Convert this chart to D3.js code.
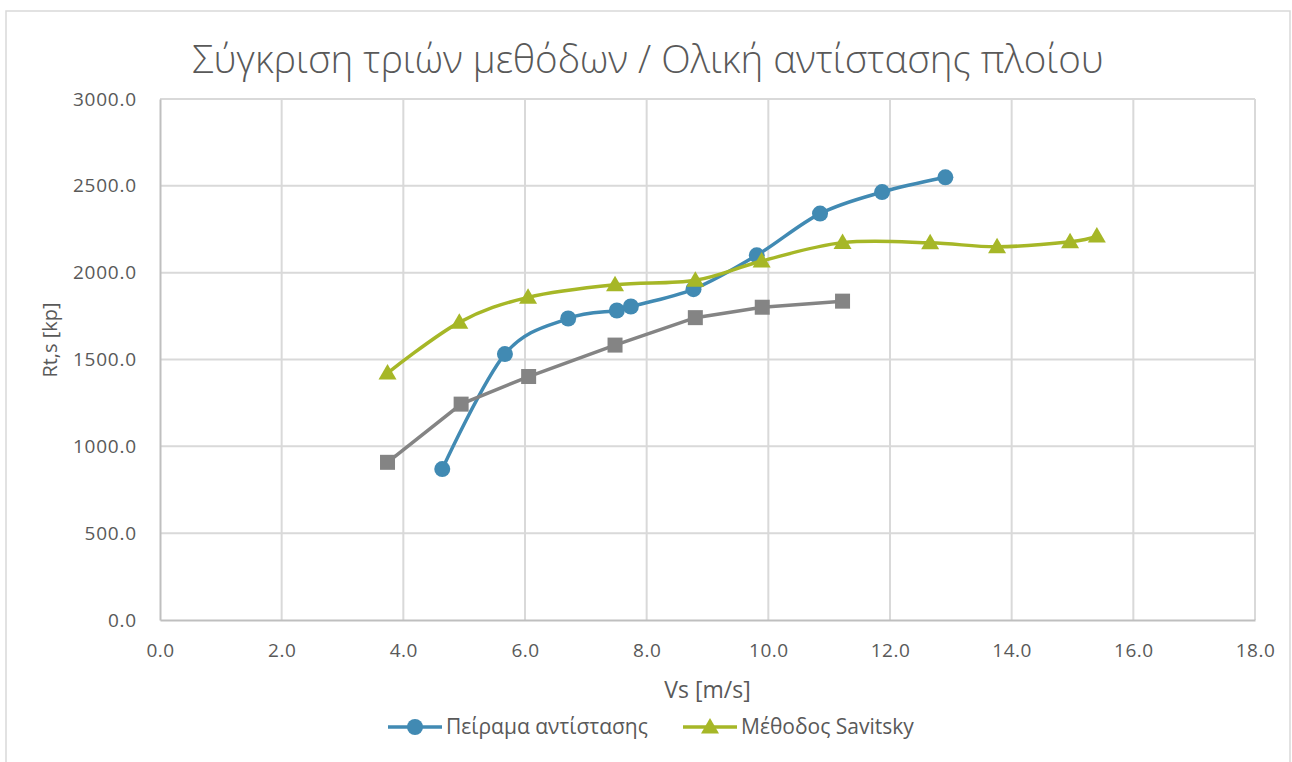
<!DOCTYPE html>
<html>
<head>
<meta charset="utf-8">
<script src="https://cdn.jsdelivr.net/npm/d3@7"></script>
<style>
  body { margin: 0; background: #fff; }
  text { font-family: "Open Sans", "Noto Sans", sans-serif; fill: #595959; }
</style>
</head>
<body>
<div id="chart"></div>
<script>
// data
const expX = [4.64, 5.67, 6.71, 7.51, 7.74, 8.77, 9.81, 10.85, 11.87, 12.91];
const expY = [869, 1531, 1736, 1782, 1805, 1905, 2100, 2340, 2464, 2549];

const grayX = [3.74, 4.95, 6.06, 7.48, 8.80, 9.90, 11.22];
const grayY = [908, 1243, 1402, 1583, 1741, 1801, 1836];

const savX = [3.74, 4.92, 6.05, 7.48, 8.80, 9.89, 11.22, 12.66, 13.76, 14.96, 15.40];
const savY = [1422, 1714, 1858, 1930, 1956, 2067, 2173, 2172, 2149, 2178, 2211];

const xTicks = [0, 2, 4, 6, 8, 10, 12, 14, 16, 18];
const yTicks = [0, 500, 1000, 1500, 2000, 2500, 3000];

const W = 1292, H = 762;
const margin = {top: 99, right: 37, bottom: 142, left: 160};
const width = W - margin.left - margin.right,
      height = H - margin.top - margin.bottom;

const svg = d3.select("#chart").append("svg")
    .attr("width", W).attr("height", H);

// outer chart frame
svg.append("rect")
    .attr("x", 6).attr("y", 11)
    .attr("width", 1284).attr("height", 780)
    .attr("fill", "#fff").attr("stroke", "#d9d9d9").attr("stroke-width", 1.5);

svg.append("text")
    .attr("x", 648).attr("y", 73)
    .attr("text-anchor", "middle")
    .style("font-size", "38.5px")
    .style("font-weight", 300)
    .text("Σύγκριση τριών μεθόδων / Ολική αντίστασης πλοίου");

const g = svg.append("g").attr("transform", "translate(" + margin.left + "," + margin.top + ")");

const x = d3.scaleLinear().domain([0, 18]).range([0, width]);
const y = d3.scaleLinear().domain([0, 3000]).range([height, 0]);

// grid
g.append("g").selectAll("line").data(yTicks.slice(1)).enter().append("line")
    .attr("x1", 0).attr("x2", width)
    .attr("y1", d => y(d)).attr("y2", d => y(d))
    .attr("stroke", "#d9d9d9").attr("stroke-width", 2);
g.append("g").selectAll("line").data(xTicks.slice(1)).enter().append("line")
    .attr("y1", 0).attr("y2", height)
    .attr("x1", d => x(d)).attr("x2", d => x(d))
    .attr("stroke", "#d9d9d9").attr("stroke-width", 2);

// axes
const xAxis = g.append("g")
    .attr("transform", "translate(0," + height + ")")
    .call(d3.axisBottom(x).tickValues(xTicks).tickFormat(d3.format(".1f")).tickSize(0).tickPadding(24));
xAxis.select(".domain").attr("stroke", "#bfbfbf").attr("stroke-width", 2);
xAxis.selectAll("text").style("font-size", "19px").style("letter-spacing", "0.5px").style("fill", "#595959").style("font-family", null);

const yAxis = g.append("g")
    .call(d3.axisLeft(y).tickValues(yTicks).tickFormat(d3.format(".1f")).tickSize(0).tickPadding(23));
yAxis.select(".domain").attr("stroke", "#bfbfbf").attr("stroke-width", 2);
yAxis.selectAll("text").style("font-size", "19px").style("letter-spacing", "0.8px").style("fill", "#595959").style("font-family", null);

svg.append("text")
    .attr("x", margin.left + width / 2).attr("y", 698)
    .attr("text-anchor", "middle")
    .style("font-size", "23px")
    .text("Vs [m/s]");

svg.append("text")
    .attr("transform", "translate(57,340) rotate(-90)")
    .attr("text-anchor", "middle")
    .style("font-size", "20px")
    .text("Rt,s [kp]");

const series = [
  {name: "Πείραμα αντίστασης", xs: expX, ys: expY, color: "#418ab3", shape: "circle", curve: d3.curveCardinal.tension(0)},
  {name: "", xs: grayX, ys: grayY, color: "#848484", shape: "square", curve: d3.curveLinear},
  {name: "Μέθοδος Savitsky", xs: savX, ys: savY, color: "#a6b727", shape: "triangle", curve: d3.curveCardinal.tension(0)}
];

function marker(sel, s) {
  if (s.shape === "circle") {
    sel.append("circle").attr("r", 8).attr("fill", s.color);
  } else if (s.shape === "square") {
    sel.append("rect").attr("x", -7.5).attr("y", -7.5).attr("width", 15).attr("height", 15).attr("fill", s.color);
  } else {
    sel.append("path").attr("d", "M0,-9L9,6.5L-9,6.5Z").attr("fill", s.color);
  }
}

series.forEach(s => {
  const pts = s.xs.map((v, i) => [v, s.ys[i]]);
  const line = d3.line().x(d => x(d[0])).y(d => y(d[1])).curve(s.curve);
  g.append("path").datum(pts)
      .attr("d", line)
      .attr("fill", "none")
      .attr("stroke", s.color)
      .attr("stroke-width", 3.5);
  g.append("g").selectAll("g").data(pts).enter().append("g")
      .attr("transform", d => "translate(" + x(d[0]) + "," + y(d[1]) + ")")
      .each(function() { marker(d3.select(this), s); });
});

// legend
const legendItems = [
  {s: series[0], x: 388},
  {s: series[2], x: 683}
];
legendItems.forEach(item => {
  const lg = svg.append("g").attr("transform", "translate(" + item.x + ",727)");
  lg.append("line").attr("x1", 0).attr("x2", 54).attr("stroke", item.s.color).attr("stroke-width", 3.5);
  const m = lg.append("g").attr("transform", "translate(27,0)");
  marker(m, item.s);
  lg.append("text").attr("x", 58).attr("y", 7)
      .style("font-size", "21px")
      .text(item.s.name);
});
</script>
</body>
</html>
